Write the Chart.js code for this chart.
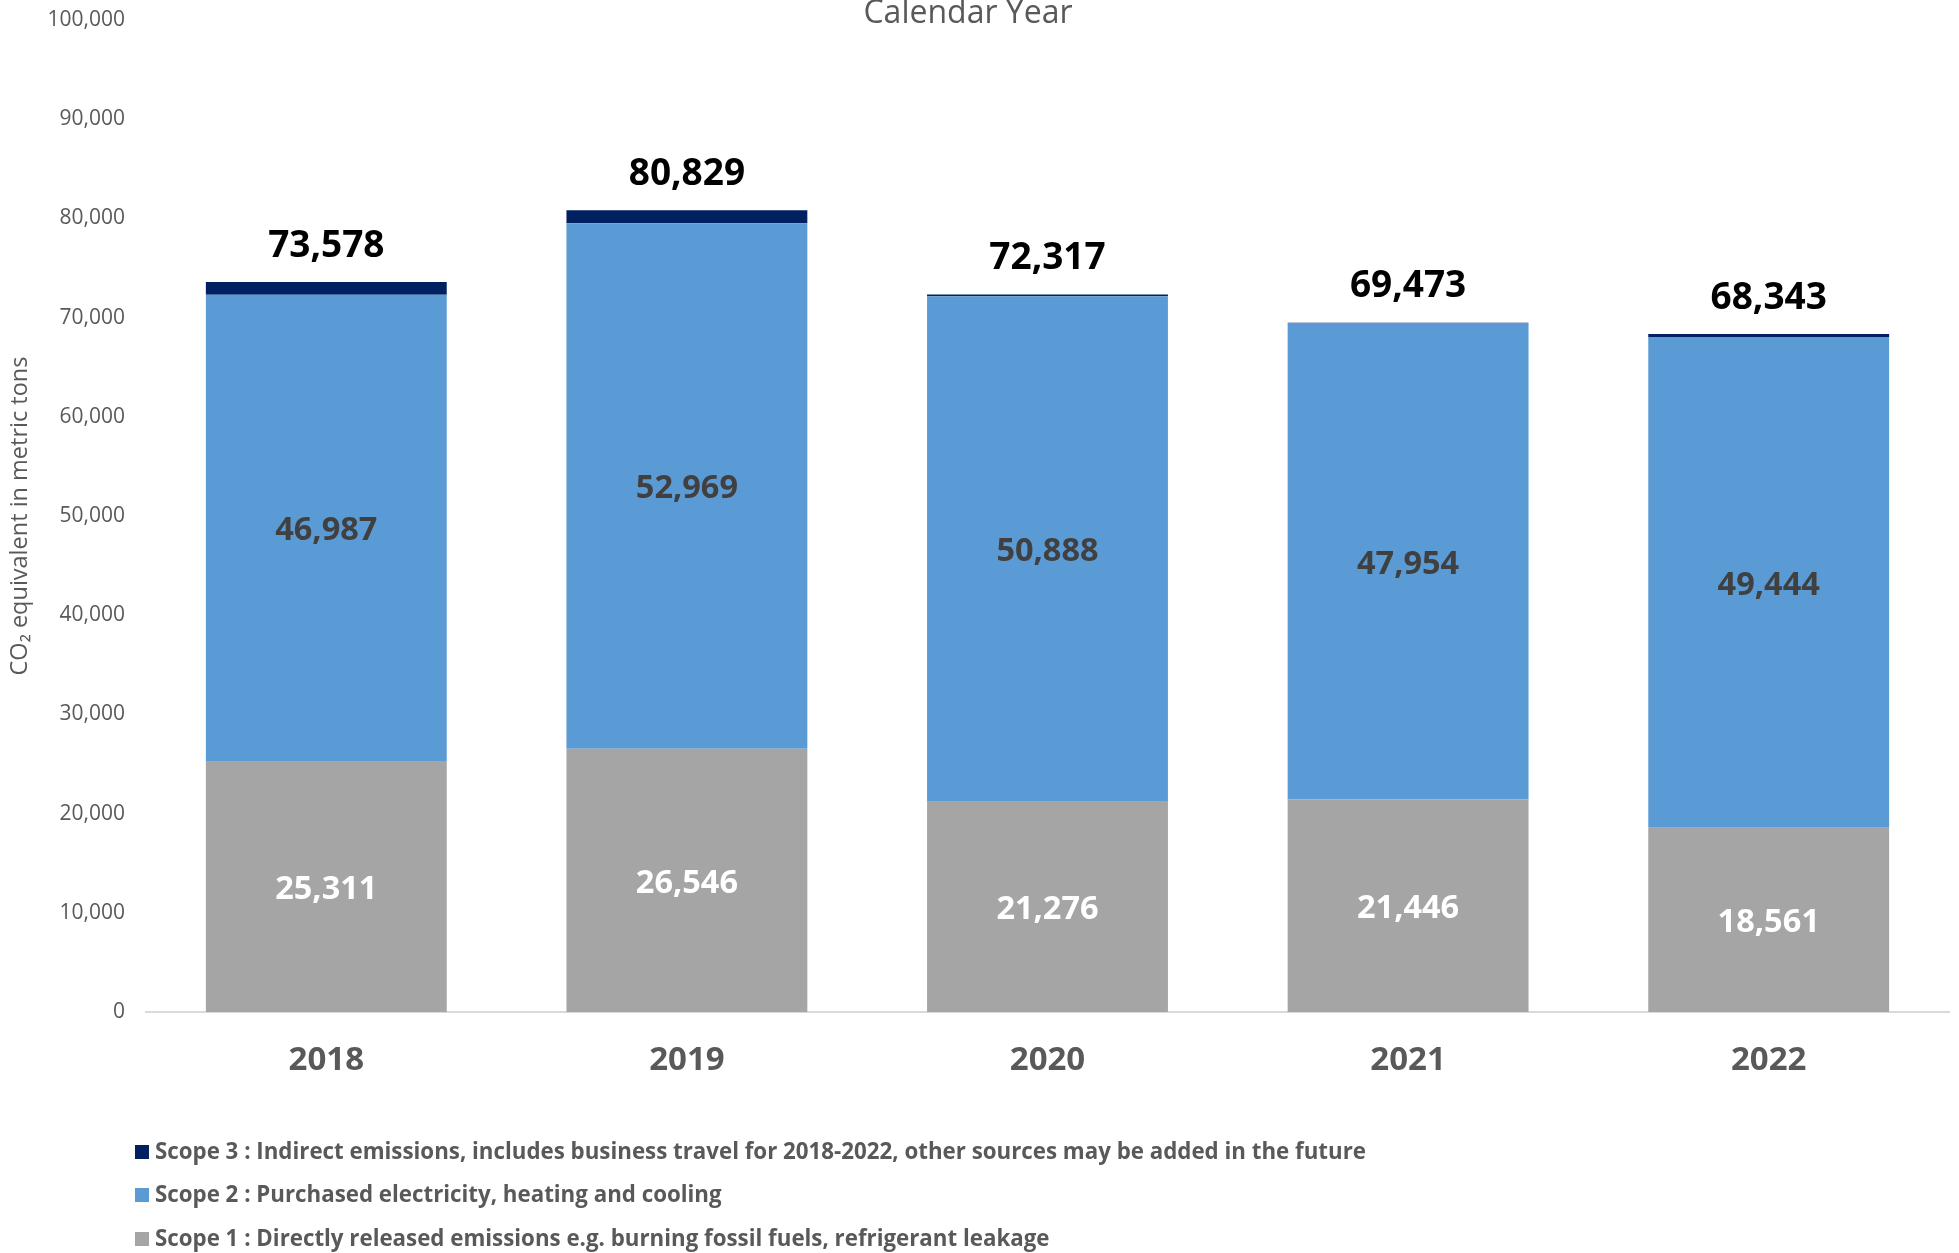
<!DOCTYPE html>
<html>
<head>
<meta charset="utf-8">
<script src="https://cdn.jsdelivr.net/npm/chart.js@4.4.0/dist/chart.umd.min.js"></script>
<style>
  html, body { margin: 0; padding: 0; background: #ffffff; }
  #wrap { width: 1959px; height: 1253px; position: relative; }
</style>
</head>
<body>
<div id="wrap"><canvas id="c" width="1959" height="1253"></canvas></div>
<script>
// Emissions by calendar year, CO2 equivalent in metric tons
const years = ['2018', '2019', '2020', '2021', '2022'];
const scope1 = [25311, 26546, 21276, 21446, 18561];
const scope2 = [46987, 52969, 50888, 47954, 49444];
const scope3 = [1280, 1314, 153, 73, 338];

const seriesNames = [
  'Scope 1 : Directly released emissions e.g. burning fossil fuels, refrigerant leakage',
  'Scope 2 : Purchased electricity, heating and cooling',
  'Scope 3 : Indirect emissions, includes business travel for 2018-2022, other sources may be added in the future'
];
const seriesColors = ['#A5A5A5', '#5B9BD5', '#002060'];
const chartTitle = 'Calendar Year';
const yTitle = 'CO\u2082 equivalent in metric tons';

const fmt = v => v.toLocaleString('en-US');
const totals = years.map((_, i) => scope1[i] + scope2[i] + scope3[i]);

const BASE_FONT = "'Open Sans', 'DejaVu Sans', sans-serif";

// Value labels inside the lower two segments and totals above each stack
const valueLabels = {
  id: 'valueLabels',
  afterDatasetsDraw(chart) {
    const ctx = chart.ctx;
    ctx.save();
    ctx.textAlign = 'center';
    ctx.textBaseline = 'middle';
    const inner = [{ ds: 0, color: '#FFFFFF' }, { ds: 1, color: '#404040' }];
    inner.forEach(({ ds, color }) => {
      const meta = chart.getDatasetMeta(ds);
      const values = chart.data.datasets[ds].data;
      meta.data.forEach((bar, i) => {
        ctx.fillStyle = color;
        ctx.font = "bold 32.5px " + BASE_FONT;
        ctx.fillText(fmt(values[i]), bar.x, (bar.y + bar.base) / 2 + 3);
      });
    });
    const topMeta = chart.getDatasetMeta(2);
    topMeta.data.forEach((bar, i) => {
      ctx.fillStyle = '#000000';
      ctx.font = "bold 37px " + BASE_FONT;
      ctx.fillText(fmt(totals[i]), bar.x, bar.y - 36);
    });
    ctx.restore();
  }
};

// Title across the top and a stacked legend under the axis
const frame = {
  id: 'frame',
  afterDraw(chart) {
    const ctx = chart.ctx;
    ctx.save();
    ctx.fillStyle = '#595959';
    ctx.font = "32px " + BASE_FONT;
    ctx.textAlign = 'center';
    ctx.textBaseline = 'middle';
    ctx.fillText(chartTitle, 968, 14);

    const rows = [2, 1, 0];
    const rowY = [1152, 1195, 1239];
    ctx.textAlign = 'left';
    ctx.font = "bold 22.3px " + BASE_FONT;
    rows.forEach((ds, r) => {
      const d = chart.data.datasets[ds];
      ctx.fillStyle = d.backgroundColor;
      ctx.fillRect(135, rowY[r] - 7, 14, 14);
      ctx.fillStyle = '#595959';
      ctx.fillText(d.label, 155, rowY[r] + 1);
    });
    ctx.restore();
  }
};

new Chart(document.getElementById('c'), {
  type: 'bar',
  data: {
    labels: years,
    datasets: [
      { label: seriesNames[0], data: scope1, backgroundColor: seriesColors[0] },
      { label: seriesNames[1], data: scope2, backgroundColor: seriesColors[1] },
      { label: seriesNames[2], data: scope3, backgroundColor: seriesColors[2] }
    ]
  },
  options: {
    responsive: false,
    animation: false,
    devicePixelRatio: 1,
    layout: { padding: { left: 0, top: 20, right: 10, bottom: 161 } },
    datasets: {
      bar: { categoryPercentage: 1.0, barPercentage: 0.668, borderWidth: 0 }
    },
    plugins: {
      legend: { display: false },
      title: { display: false },
      tooltip: { enabled: false }
    },
    scales: {
      x: {
        stacked: true,
        grid: { display: false, drawTicks: false },
        border: { display: true, color: '#D9D9D9', width: 2 },
        ticks: {
          padding: 29,
          color: '#595959',
          font: { family: BASE_FONT, size: 33, weight: 'bold' }
        },
        afterFit(scale) { scale.height = 80; }
      },
      y: {
        stacked: true,
        min: 0,
        max: 100000,
        grid: { display: false, drawTicks: false },
        border: { display: false },
        ticks: {
          stepSize: 10000,
          padding: 21,
          color: '#595959',
          font: { family: BASE_FONT, size: 21 },
          callback: v => fmt(v)
        },
        title: {
          display: true,
          text: yTitle,
          color: '#595959',
          font: { family: BASE_FONT, size: 23.5 },
          padding: { top: 6, bottom: 0 }
        },
        afterFit(scale) {
          scale.width = 146;
          scale.paddingTop = 0;
          scale.paddingBottom = 0;
        }
      }
    }
  },
  plugins: [valueLabels, frame]
});
</script>
</body>
</html>
